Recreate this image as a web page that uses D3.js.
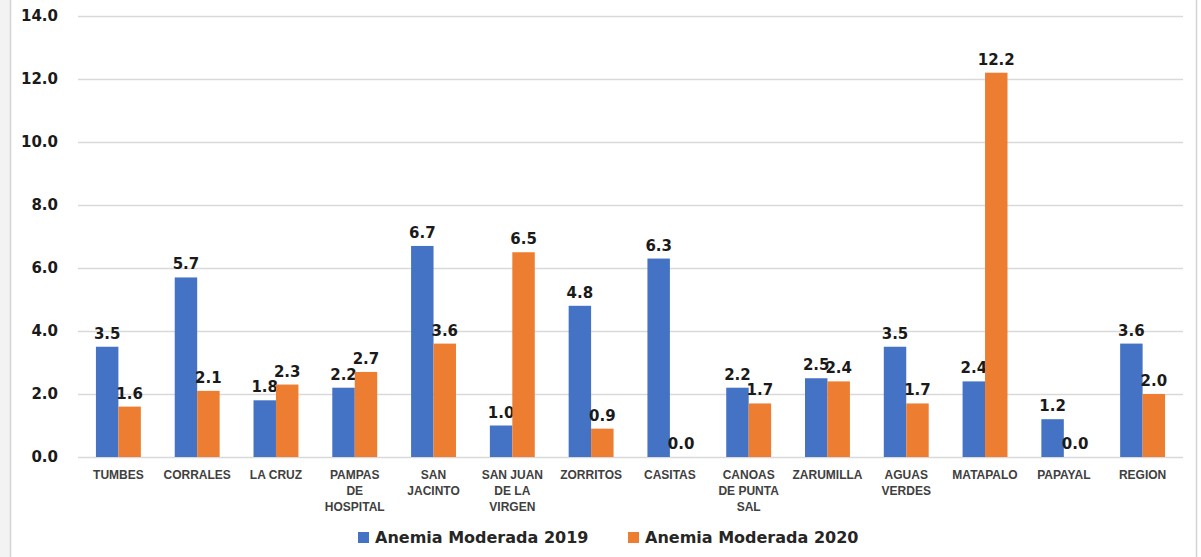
<!DOCTYPE html>
<html>
<head>
<meta charset="utf-8">
<script src="https://cdn.jsdelivr.net/npm/d3@7"></script>
<style>
  body { margin: 0; background: #ffffff; }
  svg { display: block; }
</style>
</head>
<body>
<script>
// data
var categories = [
  ["TUMBES"], ["CORRALES"], ["LA CRUZ"], ["PAMPAS", "DE", "HOSPITAL"],
  ["SAN", "JACINTO"], ["SAN JUAN", "DE LA", "VIRGEN"], ["ZORRITOS"], ["CASITAS"],
  ["CANOAS", "DE PUNTA", "SAL"], ["ZARUMILLA"], ["AGUAS", "VERDES"],
  ["MATAPALO"], ["PAPAYAL"], ["REGION"]
];
var seriesNames = ["Anemia Moderada 2019", "Anemia Moderada 2020"];
var values2019 = [3.5, 5.7, 1.8, 2.2, 6.7, 1.0, 4.8, 6.3, 2.2, 2.5, 3.5, 2.4, 1.2, 3.6];
var values2020 = [1.6, 2.1, 2.3, 2.7, 3.6, 6.5, 0.9, 0.0, 1.7, 2.4, 1.7, 12.2, 0.0, 2.0];
var yTicks = [0, 2, 4, 6, 8, 10, 12, 14];
var colors = ["#4472C4", "#ED7D31"];

//Width and height
var w = 1201, h = 557;
var plotLeft = 79, plotRight = 1182, plotTop = 16, plotBottom = 457;

var svg = d3.select("body").append("svg")
  .attr("width", w)
  .attr("height", h);

// faint frame on the sides
svg.append("rect").attr("x", 0).attr("y", 0).attr("width", 10).attr("height", h).style("fill", "#f3f3f3");
svg.append("line").attr("x1", 10.5).attr("x2", 10.5).attr("y1", 0).attr("y2", h)
  .style("stroke", "#d4d4d4").style("stroke-width", 1.5);
svg.append("line").attr("x1", 1196.5).attr("x2", 1196.5).attr("y1", 0).attr("y2", h)
  .style("stroke", "#d4d4d4").style("stroke-width", 1.5);

var x = d3.scaleBand()
  .domain(d3.range(categories.length))
  .range([plotLeft, plotRight])
  .paddingInner(0.43)
  .paddingOuter(0.215);

var x1 = d3.scaleBand()
  .domain([0, 1])
  .range([0, x.bandwidth()]);

var y = d3.scaleLinear()
  .domain([0, 14])
  .range([plotBottom, plotTop]);

// y axis
var yAxis = d3.axisLeft(y)
  .tickValues(yTicks)
  .tickFormat(d3.format(".1f"))
  .tickSize(-(1183 - 78))
  .tickPadding(20);

var gy = svg.append("g")
  .attr("transform", "translate(78,0)")
  .call(yAxis);
gy.select(".domain").remove();
gy.selectAll(".tick line").style("stroke", "#d9d9d9").style("stroke-width", 1.5);
gy.selectAll(".tick text")
  .style("font-family", "DejaVu Sans")
  .style("font-weight", "bold")
  .style("font-size", "15px")
  .style("fill", "#1a1a1a");

// bars
var series = [values2019, values2020];
series.forEach(function(vals, s) {
  var g = svg.append("g");
  g.selectAll("rect")
    .data(vals)
    .enter()
    .append("rect")
    .attr("x", function(d, i) { return x(i) + x1(s); })
    .attr("y", function(d) { return y(d); })
    .attr("width", x1.bandwidth())
    .attr("height", function(d) { return plotBottom - y(d); })
    .style("fill", colors[s]);

  g.selectAll("text")
    .data(vals)
    .enter()
    .append("text")
    .attr("x", function(d, i) { return x(i) + x1(s) + x1.bandwidth() / 2; })
    .attr("y", function(d) { return y(d) - 8; })
    .attr("text-anchor", "middle")
    .text(function(d) { return d.toFixed(1); })
    .style("font-family", "DejaVu Sans")
    .style("font-weight", "bold")
    .style("font-size", "15px")
    .style("fill", "#1a1a1a");
});

// x labels
var xl = svg.append("g");
xl.selectAll("text")
  .data(categories)
  .enter()
  .append("text")
  .attr("x", function(d, i) { return x(i) + x.bandwidth() / 2; })
  .attr("y", 479)
  .attr("text-anchor", "middle")
  .style("font-family", "Liberation Sans")
  .style("font-weight", "bold")
  .style("font-size", "12px")
  .style("fill", "#404040")
  .each(function(d) {
    var t = d3.select(this);
    d.forEach(function(line, k) {
      t.append("tspan")
        .attr("x", t.attr("x"))
        .attr("dy", k === 0 ? 0 : 16)
        .text(line);
    });
  });

// legend
var legendX = [358, 628];
var lg = svg.append("g");
lg.selectAll("rect")
  .data(seriesNames)
  .enter()
  .append("rect")
  .attr("x", function(d, i) { return legendX[i]; })
  .attr("y", 532)
  .attr("width", 11)
  .attr("height", 11)
  .style("fill", function(d, i) { return colors[i]; });
lg.selectAll("text")
  .data(seriesNames)
  .enter()
  .append("text")
  .attr("x", function(d, i) { return legendX[i] + 17; })
  .attr("y", 543)
  .text(function(d) { return d; })
  .style("font-family", "DejaVu Sans")
  .style("font-weight", "bold")
  .style("font-size", "16px")
  .style("fill", "#262626");
</script>
</body>
</html>
